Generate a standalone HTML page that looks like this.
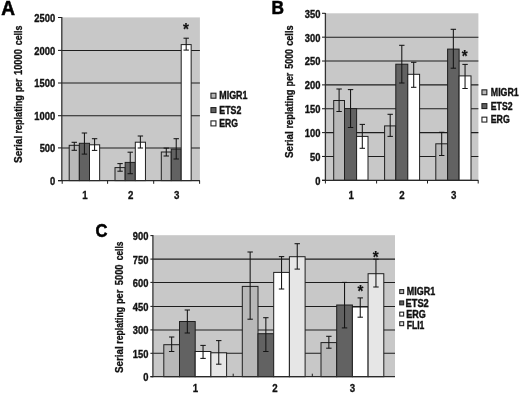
<!DOCTYPE html>
<html><head><meta charset="utf-8"><title>Figure</title>
<style>
html,body{margin:0;padding:0;background:#fff;}
body{width:520px;height:393px;overflow:hidden;font-family:"Liberation Sans",sans-serif;}
svg{display:block;filter:blur(0.35px);}
svg text{font-family:"Liberation Sans",sans-serif;font-weight:bold;}
</style></head><body>
<svg width="520" height="393" viewBox="0 0 520 393">
<rect x="0" y="0" width="520" height="393" fill="#ffffff"/>
<rect x="61.80" y="17.40" width="138.10" height="163.20" fill="#c8c8c8"/>
<line x1="61.80" y1="50.40" x2="199.90" y2="50.40" stroke="#1e1e1e" stroke-width="1.05"/>
<line x1="61.80" y1="83.00" x2="199.90" y2="83.00" stroke="#1e1e1e" stroke-width="1.05"/>
<line x1="61.80" y1="115.70" x2="199.90" y2="115.70" stroke="#1e1e1e" stroke-width="1.05"/>
<line x1="61.80" y1="147.90" x2="199.90" y2="147.90" stroke="#1e1e1e" stroke-width="1.05"/>
<rect x="69.20" y="145.30" width="10.15" height="35.30" fill="#b8b8b8" stroke="#1e1e1e" stroke-width="1.0"/>
<rect x="79.35" y="143.30" width="10.15" height="37.30" fill="#626262" stroke="#1e1e1e" stroke-width="1.0"/>
<rect x="89.50" y="144.80" width="10.15" height="35.80" fill="#ffffff" stroke="#1e1e1e" stroke-width="1.0"/>
<rect x="115.00" y="167.60" width="10.15" height="13.00" fill="#b8b8b8" stroke="#1e1e1e" stroke-width="1.0"/>
<rect x="125.15" y="162.40" width="10.15" height="18.20" fill="#626262" stroke="#1e1e1e" stroke-width="1.0"/>
<rect x="135.30" y="142.20" width="10.15" height="38.40" fill="#ffffff" stroke="#1e1e1e" stroke-width="1.0"/>
<rect x="161.30" y="152.00" width="9.95" height="28.60" fill="#b8b8b8" stroke="#1e1e1e" stroke-width="1.0"/>
<rect x="171.25" y="149.10" width="9.95" height="31.50" fill="#626262" stroke="#1e1e1e" stroke-width="1.0"/>
<rect x="181.20" y="44.60" width="9.95" height="136.00" fill="#ffffff" stroke="#1e1e1e" stroke-width="1.0"/>
<line x1="61.80" y1="17.10" x2="61.80" y2="181.10" stroke="#333" stroke-width="1.3"/>
<line x1="58.00" y1="180.60" x2="199.90" y2="180.60" stroke="#2a2a2a" stroke-width="1.3"/>
<line x1="58.00" y1="17.50" x2="61.80" y2="17.50" stroke="#1e1e1e" stroke-width="1.05"/>
<text transform="translate(34.37,21.90) scale(0.9200,1)" font-size="10.2" fill="#111111" stroke="#111111" stroke-width="0.35">2500</text>
<line x1="58.00" y1="50.40" x2="61.80" y2="50.40" stroke="#1e1e1e" stroke-width="1.05"/>
<text transform="translate(34.37,54.80) scale(0.9200,1)" font-size="10.2" fill="#111111" stroke="#111111" stroke-width="0.35">2000</text>
<line x1="58.00" y1="83.00" x2="61.80" y2="83.00" stroke="#1e1e1e" stroke-width="1.05"/>
<text transform="translate(34.37,87.40) scale(0.9200,1)" font-size="10.2" fill="#111111" stroke="#111111" stroke-width="0.35">1500</text>
<line x1="58.00" y1="115.70" x2="61.80" y2="115.70" stroke="#1e1e1e" stroke-width="1.05"/>
<text transform="translate(34.37,120.10) scale(0.9200,1)" font-size="10.2" fill="#111111" stroke="#111111" stroke-width="0.35">1000</text>
<line x1="58.00" y1="147.90" x2="61.80" y2="147.90" stroke="#1e1e1e" stroke-width="1.05"/>
<text transform="translate(39.63,152.30) scale(0.9200,1)" font-size="10.2" fill="#111111" stroke="#111111" stroke-width="0.35">500</text>
<line x1="58.00" y1="180.60" x2="61.80" y2="180.60" stroke="#1e1e1e" stroke-width="1.05"/>
<text transform="translate(50.04,185.00) scale(0.9200,1)" font-size="10.2" fill="#111111" stroke="#111111" stroke-width="0.35">0</text>
<line x1="62.20" y1="180.60" x2="62.20" y2="183.80" stroke="#1e1e1e" stroke-width="1"/>
<line x1="107.60" y1="180.60" x2="107.60" y2="183.80" stroke="#1e1e1e" stroke-width="1"/>
<line x1="153.70" y1="180.60" x2="153.70" y2="183.80" stroke="#1e1e1e" stroke-width="1"/>
<line x1="199.60" y1="180.60" x2="199.60" y2="183.80" stroke="#1e1e1e" stroke-width="1"/>
<line x1="74.28" y1="142.30" x2="74.28" y2="150.30" stroke="#141414" stroke-width="1.05"/>
<line x1="71.58" y1="142.30" x2="76.98" y2="142.30" stroke="#141414" stroke-width="1.05"/>
<line x1="71.58" y1="150.30" x2="76.98" y2="150.30" stroke="#141414" stroke-width="1.05"/>
<line x1="84.43" y1="133.00" x2="84.43" y2="154.10" stroke="#141414" stroke-width="1.05"/>
<line x1="81.73" y1="133.00" x2="87.13" y2="133.00" stroke="#141414" stroke-width="1.05"/>
<line x1="81.73" y1="154.10" x2="87.13" y2="154.10" stroke="#141414" stroke-width="1.05"/>
<line x1="94.58" y1="138.70" x2="94.58" y2="150.40" stroke="#141414" stroke-width="1.05"/>
<line x1="91.88" y1="138.70" x2="97.28" y2="138.70" stroke="#141414" stroke-width="1.05"/>
<line x1="91.88" y1="150.40" x2="97.28" y2="150.40" stroke="#141414" stroke-width="1.05"/>
<line x1="120.08" y1="163.60" x2="120.08" y2="171.20" stroke="#141414" stroke-width="1.05"/>
<line x1="117.38" y1="163.60" x2="122.78" y2="163.60" stroke="#141414" stroke-width="1.05"/>
<line x1="117.38" y1="171.20" x2="122.78" y2="171.20" stroke="#141414" stroke-width="1.05"/>
<line x1="130.23" y1="152.20" x2="130.23" y2="173.70" stroke="#141414" stroke-width="1.05"/>
<line x1="127.53" y1="152.20" x2="132.93" y2="152.20" stroke="#141414" stroke-width="1.05"/>
<line x1="127.53" y1="173.70" x2="132.93" y2="173.70" stroke="#141414" stroke-width="1.05"/>
<line x1="140.38" y1="136.00" x2="140.38" y2="148.00" stroke="#141414" stroke-width="1.05"/>
<line x1="137.68" y1="136.00" x2="143.07" y2="136.00" stroke="#141414" stroke-width="1.05"/>
<line x1="137.68" y1="148.00" x2="143.07" y2="148.00" stroke="#141414" stroke-width="1.05"/>
<line x1="166.28" y1="148.10" x2="166.28" y2="156.00" stroke="#141414" stroke-width="1.05"/>
<line x1="163.58" y1="148.10" x2="168.97" y2="148.10" stroke="#141414" stroke-width="1.05"/>
<line x1="163.58" y1="156.00" x2="168.97" y2="156.00" stroke="#141414" stroke-width="1.05"/>
<line x1="176.23" y1="138.70" x2="176.23" y2="159.00" stroke="#141414" stroke-width="1.05"/>
<line x1="173.53" y1="138.70" x2="178.93" y2="138.70" stroke="#141414" stroke-width="1.05"/>
<line x1="173.53" y1="159.00" x2="178.93" y2="159.00" stroke="#141414" stroke-width="1.05"/>
<line x1="186.18" y1="38.20" x2="186.18" y2="50.10" stroke="#141414" stroke-width="1.05"/>
<line x1="183.48" y1="38.20" x2="188.88" y2="38.20" stroke="#141414" stroke-width="1.05"/>
<line x1="183.48" y1="50.10" x2="188.88" y2="50.10" stroke="#141414" stroke-width="1.05"/>
<text transform="translate(82.13,199.20) scale(0.9000,1)" font-size="10.8" fill="#111111" stroke="#111111" stroke-width="0.3">1</text>
<text transform="translate(127.93,199.20) scale(0.9000,1)" font-size="10.8" fill="#111111" stroke="#111111" stroke-width="0.3">2</text>
<text transform="translate(173.95,199.20) scale(0.9000,1)" font-size="10.8" fill="#111111" stroke="#111111" stroke-width="0.3">3</text>
<text transform="translate(21.90,163.00) rotate(-90) scale(0.9506,1)" font-size="10.5" fill="#111111" stroke="#111111" stroke-width="0.3">Serial</text>
<text transform="translate(21.90,133.49) rotate(-90) scale(0.8616,1)" font-size="10.5" fill="#111111" stroke="#111111" stroke-width="0.3">replating</text>
<text transform="translate(21.90,91.96) rotate(-90) scale(0.8200,1)" font-size="10.5" fill="#111111" stroke="#111111" stroke-width="0.3">per</text>
<text transform="translate(21.90,75.06) rotate(-90) scale(0.8920,1)" font-size="10.5" fill="#111111" stroke="#111111" stroke-width="0.3">10000</text>
<text transform="translate(21.90,45.25) rotate(-90) scale(0.8436,1)" font-size="10.5" fill="#111111" stroke="#111111" stroke-width="0.3">cells</text>
<rect x="210.95" y="93.20" width="5.00" height="5.00" fill="#b8b8b8" stroke="#222" stroke-width="1.1"/>
<text transform="translate(219.27,99.45) scale(0.8486,1)" font-size="10.5" fill="#111111" stroke="#111111" stroke-width="0.4">MIGR1</text>
<rect x="210.95" y="107.60" width="5.00" height="5.00" fill="#626262" stroke="#222" stroke-width="1.1"/>
<text transform="translate(219.28,113.75) scale(0.8390,1)" font-size="10.5" fill="#111111" stroke="#111111" stroke-width="0.4">ETS2</text>
<rect x="210.95" y="120.90" width="5.00" height="5.00" fill="#ffffff" stroke="#222" stroke-width="1.1"/>
<text transform="translate(219.29,127.05) scale(0.8217,1)" font-size="10.5" fill="#111111" stroke="#111111" stroke-width="0.4">ERG</text>
<text transform="translate(183.04,35.40) scale(0.9500,1)" font-size="16" fill="#111111" stroke="#111111" stroke-width="0.2">*</text>
<text transform="translate(1.15,14.55) scale(0.9724,1)" font-size="19.57" fill="#000" stroke="#000" stroke-width="0.55">A</text>
<rect x="325.40" y="13.30" width="153.00" height="167.00" fill="#c8c8c8"/>
<line x1="325.40" y1="37.16" x2="478.40" y2="37.16" stroke="#1e1e1e" stroke-width="1.05"/>
<line x1="325.40" y1="61.02" x2="478.40" y2="61.02" stroke="#1e1e1e" stroke-width="1.05"/>
<line x1="325.40" y1="84.88" x2="478.40" y2="84.88" stroke="#1e1e1e" stroke-width="1.05"/>
<line x1="325.40" y1="108.74" x2="478.40" y2="108.74" stroke="#1e1e1e" stroke-width="1.05"/>
<line x1="325.40" y1="132.60" x2="478.40" y2="132.60" stroke="#1e1e1e" stroke-width="1.05"/>
<line x1="325.40" y1="156.46" x2="478.40" y2="156.46" stroke="#1e1e1e" stroke-width="1.05"/>
<rect x="333.70" y="100.50" width="10.80" height="79.80" fill="#b8b8b8" stroke="#1e1e1e" stroke-width="1.0"/>
<rect x="344.50" y="108.60" width="12.10" height="71.70" fill="#626262" stroke="#1e1e1e" stroke-width="1.0"/>
<rect x="356.60" y="136.40" width="11.40" height="43.90" fill="#ffffff" stroke="#1e1e1e" stroke-width="1.0"/>
<rect x="384.60" y="125.90" width="11.20" height="54.40" fill="#b8b8b8" stroke="#1e1e1e" stroke-width="1.0"/>
<rect x="395.80" y="64.20" width="12.00" height="116.10" fill="#626262" stroke="#1e1e1e" stroke-width="1.0"/>
<rect x="407.80" y="74.30" width="11.80" height="106.00" fill="#ffffff" stroke="#1e1e1e" stroke-width="1.0"/>
<rect x="435.80" y="143.80" width="11.80" height="36.50" fill="#b8b8b8" stroke="#1e1e1e" stroke-width="1.0"/>
<rect x="447.60" y="49.10" width="11.50" height="131.20" fill="#626262" stroke="#1e1e1e" stroke-width="1.0"/>
<rect x="459.10" y="75.90" width="11.90" height="104.40" fill="#ffffff" stroke="#1e1e1e" stroke-width="1.0"/>
<line x1="325.40" y1="13.00" x2="325.40" y2="180.80" stroke="#333" stroke-width="1.3"/>
<line x1="322.00" y1="180.30" x2="478.40" y2="180.30" stroke="#2a2a2a" stroke-width="1.3"/>
<line x1="322.00" y1="13.30" x2="325.40" y2="13.30" stroke="#1e1e1e" stroke-width="1.05"/>
<text transform="translate(304.83,17.70) scale(0.9200,1)" font-size="10.2" fill="#111111" stroke="#111111" stroke-width="0.35">350</text>
<line x1="322.00" y1="37.16" x2="325.40" y2="37.16" stroke="#1e1e1e" stroke-width="1.05"/>
<text transform="translate(304.83,41.56) scale(0.9200,1)" font-size="10.2" fill="#111111" stroke="#111111" stroke-width="0.35">300</text>
<line x1="322.00" y1="61.02" x2="325.40" y2="61.02" stroke="#1e1e1e" stroke-width="1.05"/>
<text transform="translate(304.83,65.42) scale(0.9200,1)" font-size="10.2" fill="#111111" stroke="#111111" stroke-width="0.35">250</text>
<line x1="322.00" y1="84.88" x2="325.40" y2="84.88" stroke="#1e1e1e" stroke-width="1.05"/>
<text transform="translate(304.83,89.28) scale(0.9200,1)" font-size="10.2" fill="#111111" stroke="#111111" stroke-width="0.35">200</text>
<line x1="322.00" y1="108.74" x2="325.40" y2="108.74" stroke="#1e1e1e" stroke-width="1.05"/>
<text transform="translate(304.83,113.14) scale(0.9200,1)" font-size="10.2" fill="#111111" stroke="#111111" stroke-width="0.35">150</text>
<line x1="322.00" y1="132.60" x2="325.40" y2="132.60" stroke="#1e1e1e" stroke-width="1.05"/>
<text transform="translate(304.83,137.00) scale(0.9200,1)" font-size="10.2" fill="#111111" stroke="#111111" stroke-width="0.35">100</text>
<line x1="322.00" y1="156.46" x2="325.40" y2="156.46" stroke="#1e1e1e" stroke-width="1.05"/>
<text transform="translate(310.03,160.86) scale(0.9200,1)" font-size="10.2" fill="#111111" stroke="#111111" stroke-width="0.35">50</text>
<line x1="322.00" y1="180.32" x2="325.40" y2="180.32" stroke="#1e1e1e" stroke-width="1.05"/>
<text transform="translate(315.24,184.72) scale(0.9200,1)" font-size="10.2" fill="#111111" stroke="#111111" stroke-width="0.35">0</text>
<line x1="325.40" y1="180.30" x2="325.40" y2="183.50" stroke="#1e1e1e" stroke-width="1"/>
<line x1="376.60" y1="180.30" x2="376.60" y2="183.50" stroke="#1e1e1e" stroke-width="1"/>
<line x1="427.50" y1="180.30" x2="427.50" y2="183.50" stroke="#1e1e1e" stroke-width="1"/>
<line x1="478.20" y1="180.30" x2="478.20" y2="183.50" stroke="#1e1e1e" stroke-width="1"/>
<line x1="339.10" y1="89.00" x2="339.10" y2="111.50" stroke="#141414" stroke-width="1.05"/>
<line x1="336.40" y1="89.00" x2="341.80" y2="89.00" stroke="#141414" stroke-width="1.05"/>
<line x1="336.40" y1="111.50" x2="341.80" y2="111.50" stroke="#141414" stroke-width="1.05"/>
<line x1="350.55" y1="89.60" x2="350.55" y2="127.50" stroke="#141414" stroke-width="1.05"/>
<line x1="347.85" y1="89.60" x2="353.25" y2="89.60" stroke="#141414" stroke-width="1.05"/>
<line x1="347.85" y1="127.50" x2="353.25" y2="127.50" stroke="#141414" stroke-width="1.05"/>
<line x1="362.30" y1="124.40" x2="362.30" y2="148.30" stroke="#141414" stroke-width="1.05"/>
<line x1="359.60" y1="124.40" x2="365.00" y2="124.40" stroke="#141414" stroke-width="1.05"/>
<line x1="359.60" y1="148.30" x2="365.00" y2="148.30" stroke="#141414" stroke-width="1.05"/>
<line x1="390.20" y1="114.30" x2="390.20" y2="136.40" stroke="#141414" stroke-width="1.05"/>
<line x1="387.50" y1="114.30" x2="392.90" y2="114.30" stroke="#141414" stroke-width="1.05"/>
<line x1="387.50" y1="136.40" x2="392.90" y2="136.40" stroke="#141414" stroke-width="1.05"/>
<line x1="401.80" y1="45.30" x2="401.80" y2="83.00" stroke="#141414" stroke-width="1.05"/>
<line x1="399.10" y1="45.30" x2="404.50" y2="45.30" stroke="#141414" stroke-width="1.05"/>
<line x1="399.10" y1="83.00" x2="404.50" y2="83.00" stroke="#141414" stroke-width="1.05"/>
<line x1="413.70" y1="62.30" x2="413.70" y2="87.30" stroke="#141414" stroke-width="1.05"/>
<line x1="411.00" y1="62.30" x2="416.40" y2="62.30" stroke="#141414" stroke-width="1.05"/>
<line x1="411.00" y1="87.30" x2="416.40" y2="87.30" stroke="#141414" stroke-width="1.05"/>
<line x1="441.70" y1="132.30" x2="441.70" y2="155.50" stroke="#141414" stroke-width="1.05"/>
<line x1="439.00" y1="132.30" x2="444.40" y2="132.30" stroke="#141414" stroke-width="1.05"/>
<line x1="439.00" y1="155.50" x2="444.40" y2="155.50" stroke="#141414" stroke-width="1.05"/>
<line x1="453.35" y1="29.30" x2="453.35" y2="68.20" stroke="#141414" stroke-width="1.05"/>
<line x1="450.65" y1="29.30" x2="456.05" y2="29.30" stroke="#141414" stroke-width="1.05"/>
<line x1="450.65" y1="68.20" x2="456.05" y2="68.20" stroke="#141414" stroke-width="1.05"/>
<line x1="465.05" y1="64.40" x2="465.05" y2="88.50" stroke="#141414" stroke-width="1.05"/>
<line x1="462.35" y1="64.40" x2="467.75" y2="64.40" stroke="#141414" stroke-width="1.05"/>
<line x1="462.35" y1="88.50" x2="467.75" y2="88.50" stroke="#141414" stroke-width="1.05"/>
<text transform="translate(348.53,198.60) scale(0.9000,1)" font-size="10.8" fill="#111111" stroke="#111111" stroke-width="0.3">1</text>
<text transform="translate(399.33,198.60) scale(0.9000,1)" font-size="10.8" fill="#111111" stroke="#111111" stroke-width="0.3">2</text>
<text transform="translate(450.95,198.60) scale(0.9000,1)" font-size="10.8" fill="#111111" stroke="#111111" stroke-width="0.3">3</text>
<text transform="translate(293.40,158.09) rotate(-90) scale(0.9361,1)" font-size="10.5" fill="#111111" stroke="#111111" stroke-width="0.3">Serial</text>
<text transform="translate(293.40,128.60) rotate(-90) scale(0.8825,1)" font-size="10.5" fill="#111111" stroke="#111111" stroke-width="0.3">replating</text>
<text transform="translate(293.40,86.58) rotate(-90) scale(0.8523,1)" font-size="10.5" fill="#111111" stroke="#111111" stroke-width="0.3">per</text>
<text transform="translate(293.40,68.67) rotate(-90) scale(0.8441,1)" font-size="10.5" fill="#111111" stroke="#111111" stroke-width="0.3">5000</text>
<text transform="translate(293.40,45.87) rotate(-90) scale(0.8747,1)" font-size="10.5" fill="#111111" stroke="#111111" stroke-width="0.3">cells</text>
<rect x="481.95" y="89.85" width="4.90" height="4.90" fill="#b8b8b8" stroke="#222" stroke-width="1.1"/>
<text transform="translate(490.78,95.75) scale(0.8424,1)" font-size="10.5" fill="#111111" stroke="#111111" stroke-width="0.4">MIGR1</text>
<rect x="481.95" y="103.65" width="4.90" height="4.90" fill="#626262" stroke="#222" stroke-width="1.1"/>
<text transform="translate(490.79,109.65) scale(0.8271,1)" font-size="10.5" fill="#111111" stroke="#111111" stroke-width="0.4">ETS2</text>
<rect x="481.95" y="117.15" width="4.90" height="4.90" fill="#ffffff" stroke="#222" stroke-width="1.1"/>
<text transform="translate(490.78,123.15) scale(0.8357,1)" font-size="10.5" fill="#111111" stroke="#111111" stroke-width="0.4">ERG</text>
<text transform="translate(461.64,62.30) scale(0.9500,1)" font-size="16" fill="#111111" stroke="#111111" stroke-width="0.2">*</text>
<text transform="translate(271.60,14.15) scale(0.9394,1)" font-size="18.41" fill="#000" stroke="#000" stroke-width="0.55">B</text>
<rect x="152.90" y="235.20" width="242.10" height="141.50" fill="#c8c8c8"/>
<line x1="152.90" y1="259.10" x2="395.00" y2="259.10" stroke="#1e1e1e" stroke-width="1.05"/>
<line x1="152.90" y1="282.40" x2="395.00" y2="282.40" stroke="#1e1e1e" stroke-width="1.05"/>
<line x1="152.90" y1="306.40" x2="395.00" y2="306.40" stroke="#1e1e1e" stroke-width="1.05"/>
<line x1="152.90" y1="329.90" x2="395.00" y2="329.90" stroke="#1e1e1e" stroke-width="1.05"/>
<line x1="152.90" y1="353.30" x2="395.00" y2="353.30" stroke="#1e1e1e" stroke-width="1.05"/>
<rect x="163.80" y="344.70" width="15.70" height="32.00" fill="#b8b8b8" stroke="#1e1e1e" stroke-width="1.0"/>
<rect x="179.50" y="321.50" width="15.70" height="55.20" fill="#626262" stroke="#1e1e1e" stroke-width="1.0"/>
<rect x="195.20" y="351.50" width="15.70" height="25.20" fill="#ffffff" stroke="#1e1e1e" stroke-width="1.0"/>
<rect x="210.90" y="352.80" width="15.70" height="23.90" fill="#e6e6e6" stroke="#1e1e1e" stroke-width="1.0"/>
<rect x="242.30" y="286.40" width="15.70" height="90.30" fill="#b8b8b8" stroke="#1e1e1e" stroke-width="1.0"/>
<rect x="258.00" y="333.70" width="15.70" height="43.00" fill="#626262" stroke="#1e1e1e" stroke-width="1.0"/>
<rect x="273.70" y="272.40" width="15.70" height="104.30" fill="#ffffff" stroke="#1e1e1e" stroke-width="1.0"/>
<rect x="289.40" y="256.70" width="15.70" height="120.00" fill="#e6e6e6" stroke="#1e1e1e" stroke-width="1.0"/>
<rect x="321.00" y="342.60" width="15.70" height="34.10" fill="#b8b8b8" stroke="#1e1e1e" stroke-width="1.0"/>
<rect x="336.70" y="305.00" width="15.70" height="71.70" fill="#626262" stroke="#1e1e1e" stroke-width="1.0"/>
<rect x="352.40" y="307.00" width="15.70" height="69.70" fill="#ffffff" stroke="#1e1e1e" stroke-width="1.0"/>
<rect x="368.10" y="273.70" width="15.70" height="103.00" fill="#e6e6e6" stroke="#1e1e1e" stroke-width="1.0"/>
<line x1="152.90" y1="234.90" x2="152.90" y2="377.20" stroke="#333" stroke-width="1.3"/>
<line x1="150.40" y1="376.70" x2="395.00" y2="376.70" stroke="#2a2a2a" stroke-width="1.3"/>
<line x1="150.40" y1="235.60" x2="152.90" y2="235.60" stroke="#1e1e1e" stroke-width="1.05"/>
<text transform="translate(132.73,240.00) scale(0.9200,1)" font-size="10.2" fill="#111111" stroke="#111111" stroke-width="0.35">900</text>
<line x1="150.40" y1="259.10" x2="152.90" y2="259.10" stroke="#1e1e1e" stroke-width="1.05"/>
<text transform="translate(132.73,263.50) scale(0.9200,1)" font-size="10.2" fill="#111111" stroke="#111111" stroke-width="0.35">750</text>
<line x1="150.40" y1="282.40" x2="152.90" y2="282.40" stroke="#1e1e1e" stroke-width="1.05"/>
<text transform="translate(132.73,286.80) scale(0.9200,1)" font-size="10.2" fill="#111111" stroke="#111111" stroke-width="0.35">600</text>
<line x1="150.40" y1="306.40" x2="152.90" y2="306.40" stroke="#1e1e1e" stroke-width="1.05"/>
<text transform="translate(132.73,310.80) scale(0.9200,1)" font-size="10.2" fill="#111111" stroke="#111111" stroke-width="0.35">450</text>
<line x1="150.40" y1="329.90" x2="152.90" y2="329.90" stroke="#1e1e1e" stroke-width="1.05"/>
<text transform="translate(132.73,334.30) scale(0.9200,1)" font-size="10.2" fill="#111111" stroke="#111111" stroke-width="0.35">300</text>
<line x1="150.40" y1="353.30" x2="152.90" y2="353.30" stroke="#1e1e1e" stroke-width="1.05"/>
<text transform="translate(132.73,357.70) scale(0.9200,1)" font-size="10.2" fill="#111111" stroke="#111111" stroke-width="0.35">150</text>
<line x1="150.40" y1="376.70" x2="152.90" y2="376.70" stroke="#1e1e1e" stroke-width="1.05"/>
<text transform="translate(143.14,381.10) scale(0.9200,1)" font-size="10.2" fill="#111111" stroke="#111111" stroke-width="0.35">0</text>
<line x1="233.20" y1="373.70" x2="233.20" y2="376.70" stroke="#1e1e1e" stroke-width="1"/>
<line x1="312.30" y1="373.70" x2="312.30" y2="376.70" stroke="#1e1e1e" stroke-width="1"/>
<line x1="171.65" y1="337.00" x2="171.65" y2="351.50" stroke="#141414" stroke-width="1.05"/>
<line x1="168.95" y1="337.00" x2="174.35" y2="337.00" stroke="#141414" stroke-width="1.05"/>
<line x1="168.95" y1="351.50" x2="174.35" y2="351.50" stroke="#141414" stroke-width="1.05"/>
<line x1="187.35" y1="310.00" x2="187.35" y2="333.00" stroke="#141414" stroke-width="1.05"/>
<line x1="184.65" y1="310.00" x2="190.05" y2="310.00" stroke="#141414" stroke-width="1.05"/>
<line x1="184.65" y1="333.00" x2="190.05" y2="333.00" stroke="#141414" stroke-width="1.05"/>
<line x1="203.05" y1="345.40" x2="203.05" y2="358.40" stroke="#141414" stroke-width="1.05"/>
<line x1="200.35" y1="345.40" x2="205.75" y2="345.40" stroke="#141414" stroke-width="1.05"/>
<line x1="200.35" y1="358.40" x2="205.75" y2="358.40" stroke="#141414" stroke-width="1.05"/>
<line x1="218.75" y1="340.60" x2="218.75" y2="364.20" stroke="#141414" stroke-width="1.05"/>
<line x1="216.05" y1="340.60" x2="221.45" y2="340.60" stroke="#141414" stroke-width="1.05"/>
<line x1="216.05" y1="364.20" x2="221.45" y2="364.20" stroke="#141414" stroke-width="1.05"/>
<line x1="250.15" y1="252.00" x2="250.15" y2="319.20" stroke="#141414" stroke-width="1.05"/>
<line x1="247.45" y1="252.00" x2="252.85" y2="252.00" stroke="#141414" stroke-width="1.05"/>
<line x1="247.45" y1="319.20" x2="252.85" y2="319.20" stroke="#141414" stroke-width="1.05"/>
<line x1="265.85" y1="317.70" x2="265.85" y2="351.50" stroke="#141414" stroke-width="1.05"/>
<line x1="263.15" y1="317.70" x2="268.55" y2="317.70" stroke="#141414" stroke-width="1.05"/>
<line x1="263.15" y1="351.50" x2="268.55" y2="351.50" stroke="#141414" stroke-width="1.05"/>
<line x1="281.55" y1="256.60" x2="281.55" y2="289.00" stroke="#141414" stroke-width="1.05"/>
<line x1="278.85" y1="256.60" x2="284.25" y2="256.60" stroke="#141414" stroke-width="1.05"/>
<line x1="278.85" y1="289.00" x2="284.25" y2="289.00" stroke="#141414" stroke-width="1.05"/>
<line x1="297.25" y1="243.70" x2="297.25" y2="269.10" stroke="#141414" stroke-width="1.05"/>
<line x1="294.55" y1="243.70" x2="299.95" y2="243.70" stroke="#141414" stroke-width="1.05"/>
<line x1="294.55" y1="269.10" x2="299.95" y2="269.10" stroke="#141414" stroke-width="1.05"/>
<line x1="328.85" y1="336.30" x2="328.85" y2="348.20" stroke="#141414" stroke-width="1.05"/>
<line x1="326.15" y1="336.30" x2="331.55" y2="336.30" stroke="#141414" stroke-width="1.05"/>
<line x1="326.15" y1="348.20" x2="331.55" y2="348.20" stroke="#141414" stroke-width="1.05"/>
<line x1="344.55" y1="282.40" x2="344.55" y2="327.90" stroke="#141414" stroke-width="1.05"/>
<line x1="341.85" y1="282.40" x2="347.25" y2="282.40" stroke="#141414" stroke-width="1.05"/>
<line x1="341.85" y1="327.90" x2="347.25" y2="327.90" stroke="#141414" stroke-width="1.05"/>
<line x1="360.25" y1="297.90" x2="360.25" y2="317.20" stroke="#141414" stroke-width="1.05"/>
<line x1="357.55" y1="297.90" x2="362.95" y2="297.90" stroke="#141414" stroke-width="1.05"/>
<line x1="357.55" y1="317.20" x2="362.95" y2="317.20" stroke="#141414" stroke-width="1.05"/>
<line x1="375.95" y1="259.20" x2="375.95" y2="287.00" stroke="#141414" stroke-width="1.05"/>
<line x1="373.25" y1="259.20" x2="378.65" y2="259.20" stroke="#141414" stroke-width="1.05"/>
<line x1="373.25" y1="287.00" x2="378.65" y2="287.00" stroke="#141414" stroke-width="1.05"/>
<text transform="translate(192.63,391.60) scale(0.9000,1)" font-size="10.8" fill="#111111" stroke="#111111" stroke-width="0.3">1</text>
<text transform="translate(272.33,391.60) scale(0.9000,1)" font-size="10.8" fill="#111111" stroke="#111111" stroke-width="0.3">2</text>
<text transform="translate(349.85,391.60) scale(0.9000,1)" font-size="10.8" fill="#111111" stroke="#111111" stroke-width="0.3">3</text>
<text transform="translate(122.90,373.09) rotate(-90) scale(0.9361,1)" font-size="10.5" fill="#111111" stroke="#111111" stroke-width="0.3">Serial</text>
<text transform="translate(122.90,343.67) rotate(-90) scale(0.8290,1)" font-size="10.5" fill="#111111" stroke="#111111" stroke-width="0.3">replating</text>
<text transform="translate(122.90,304.10) rotate(-90) scale(0.8781,1)" font-size="10.5" fill="#111111" stroke="#111111" stroke-width="0.3">per</text>
<text transform="translate(122.90,285.28) rotate(-90) scale(0.8927,1)" font-size="10.5" fill="#111111" stroke="#111111" stroke-width="0.3">5000</text>
<text transform="translate(122.90,260.24) rotate(-90) scale(0.7992,1)" font-size="10.5" fill="#111111" stroke="#111111" stroke-width="0.3">cells</text>
<rect x="399.75" y="289.65" width="3.90" height="3.90" fill="#b8b8b8" stroke="#222" stroke-width="1.1"/>
<text transform="translate(406.87,295.05) scale(0.8517,1)" font-size="10.5" fill="#111111" stroke="#111111" stroke-width="0.4">MIGR1</text>
<rect x="399.75" y="300.95" width="3.90" height="3.90" fill="#626262" stroke="#222" stroke-width="1.1"/>
<text transform="translate(405.55,306.55) scale(0.8828,1)" font-size="10.5" fill="#111111" stroke="#111111" stroke-width="0.4">ETS2</text>
<rect x="399.75" y="312.15" width="3.90" height="3.90" fill="#ffffff" stroke="#222" stroke-width="1.1"/>
<text transform="translate(406.16,317.55) scale(0.8590,1)" font-size="10.5" fill="#111111" stroke="#111111" stroke-width="0.4">ERG</text>
<rect x="399.75" y="321.75" width="3.90" height="3.90" fill="#e6e6e6" stroke="#222" stroke-width="1.1"/>
<text transform="translate(406.69,328.55) scale(0.8191,1)" font-size="10.5" fill="#111111" stroke="#111111" stroke-width="0.4">FLI1</text>
<text transform="translate(372.64,262.70) scale(0.9500,1)" font-size="16" fill="#111111" stroke="#111111" stroke-width="0.2">*</text>
<text transform="translate(357.44,297.40) scale(0.9500,1)" font-size="16" fill="#111111" stroke="#111111" stroke-width="0.2">*</text>
<text transform="translate(95.56,236.77) scale(0.8978,1)" font-size="18.45" fill="#000" stroke="#000" stroke-width="0.55">C</text>
</svg>
</body></html>
